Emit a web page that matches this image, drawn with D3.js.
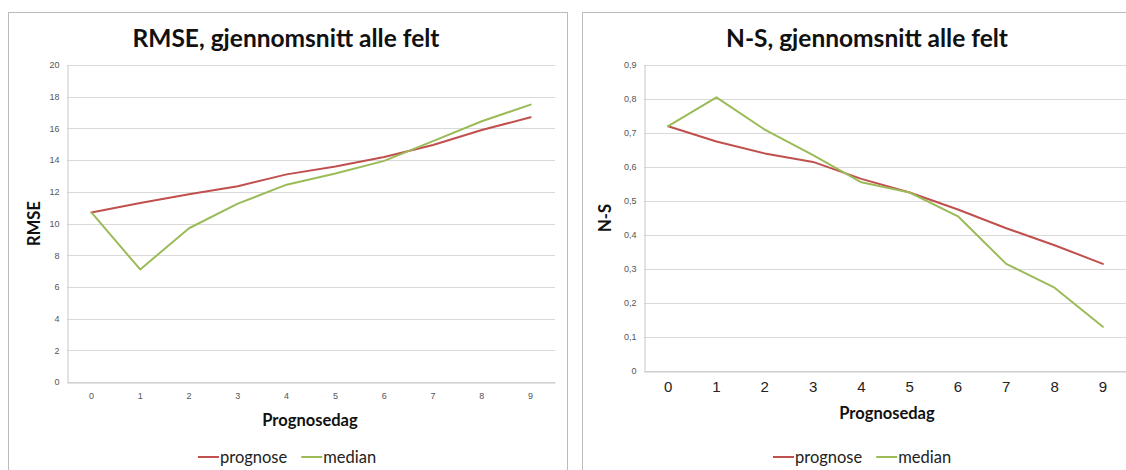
<!DOCTYPE html>
<html>
<head>
<meta charset="utf-8">
<script src="https://cdn.jsdelivr.net/npm/d3@7"></script>
<style>
  html, body { margin: 0; padding: 0; background: #ffffff; }
  svg { display: block; font-family: Lato, "Open Sans", sans-serif; }
</style>
</head>
<body>
<svg id="chart" width="1126" height="470"></svg>
<script>
// Forecast day categories shared by both panels
const days = ["0", "1", "2", "3", "4", "5", "6", "7", "8", "9"];

// RMSE, average over all fields
const rmsePrognose = [10.7, 11.3, 11.85, 12.35, 13.1, 13.6, 14.2, 14.95, 15.9, 16.7];
const rmseMedian   = [10.7, 7.1, 9.7, 11.25, 12.45, 13.15, 13.95, 15.2, 16.45, 17.5];
const rmseTicks    = [0, 2, 4, 6, 8, 10, 12, 14, 16, 18, 20];

// Nash-Sutcliffe, average over all fields
const nsPrognose = [0.72, 0.675, 0.64, 0.615, 0.565, 0.525, 0.475, 0.42, 0.37, 0.315];
const nsMedian   = [0.72, 0.805, 0.71, 0.635, 0.555, 0.525, 0.455, 0.315, 0.245, 0.13];
const nsTicks    = [0, 0.1, 0.2, 0.3, 0.4, 0.5, 0.6, 0.7, 0.8, 0.9];

const seriesNames = ["prognose", "median"];
const colors = { prognose: "#c0504d", median: "#9bbb59" };

const svg = d3.select("#chart");
const commaFmt = v => (v === 0 ? "0" : String(v).replace(".", ","));

function panel(opt) {
  const g = svg.append("g");

  // frame
  g.append("rect")
    .attr("x", opt.frame[0] + 0.5).attr("y", opt.frame[1] + 0.5)
    .attr("width", opt.frame[2]).attr("height", opt.frame[3])
    .attr("fill", "#fff").attr("stroke", "#bcbcbc").attr("stroke-width", 1);

  const x = d3.scaleBand().domain(days).range([opt.left, opt.right]);
  const y = d3.scaleLinear().domain(opt.domain).range([opt.bottom, opt.top]);

  // horizontal gridlines
  g.append("g").selectAll("line").data(opt.ticks).join("line")
    .attr("x1", opt.left).attr("x2", opt.right)
    .attr("y1", d => Math.round(y(d)) + 0.5).attr("y2", d => Math.round(y(d)) + 0.5)
    .attr("stroke", "#d9d9d9").attr("stroke-width", 1);

  // y axis
  const yAxis = g.append("g")
    .attr("transform", `translate(${opt.left + 0.5},0)`)
    .call(d3.axisLeft(y).tickValues(opt.ticks).tickFormat(opt.fmt).tickSize(0).tickPadding(8));
  yAxis.select(".domain").attr("stroke", "#c8c8c8");
  yAxis.selectAll("text").attr("font-size", 9).attr("fill", "#555");

  // x axis
  const xAxis = g.append("g")
    .attr("transform", `translate(0,${Math.round(opt.bottom) + 0.5})`)
    .call(d3.axisBottom(x).tickSize(0).tickPadding(opt.xPad));
  xAxis.select(".domain").attr("stroke", "#c8c8c8");
  xAxis.selectAll("text").attr("font-size", opt.xFont).attr("fill", opt.xColor);

  // series lines
  const line = d3.line()
    .x((d, i) => x(days[i]) + x.bandwidth() / 2)
    .y(d => y(d));
  [["prognose", opt.prognose], ["median", opt.median]].forEach(([name, vals]) => {
    g.append("path").datum(vals)
      .attr("d", line)
      .attr("fill", "none")
      .attr("stroke", colors[name])
      .attr("stroke-width", 2)
      .attr("stroke-linejoin", "round")
      .attr("stroke-linecap", "round");
  });

  // title
  g.append("text")
    .attr("x", opt.titleX).attr("y", 47)
    .attr("text-anchor", "middle")
    .attr("font-size", 24.5).attr("font-weight", 700).attr("fill", "#111")
    .text(opt.title);

  // axis titles
  g.append("text")
    .attr("x", opt.xTitleX).attr("y", opt.xTitleY)
    .attr("text-anchor", "middle")
    .attr("font-size", 16.5).attr("font-weight", 700).attr("fill", "#111")
    .text("Prognosedag");

  g.append("text")
    .attr("transform", `translate(${opt.yTitleX},${(opt.top + opt.bottom) / 2}) rotate(-90)`)
    .attr("text-anchor", "middle")
    .attr("font-size", 16.5).attr("font-weight", 700).attr("fill", "#111")
    .text(opt.yTitle);

  // legend
  const lg = g.append("g").attr("transform", `translate(${opt.legendX},457)`);
  let off = 0;
  seriesNames.forEach(name => {
    lg.append("line")
      .attr("x1", off).attr("x2", off + 21).attr("y1", 0).attr("y2", 0)
      .attr("stroke", colors[name]).attr("stroke-width", 2);
    const t = lg.append("text")
      .attr("x", off + 22).attr("y", 5.5)
      .attr("font-size", 16.5).attr("fill", "#222")
      .text(name);
    off += 22 + t.node().getComputedTextLength() + 14;
  });
}

panel({
  frame: [8, 12, 559, 470],
  left: 67, right: 555, top: 65, bottom: 382,
  domain: [0, 20], ticks: rmseTicks, fmt: commaFmt,
  prognose: rmsePrognose, median: rmseMedian,
  xFont: 9, xPad: 10, xColor: "#555",
  title: "RMSE, gjennomsnitt alle felt", titleX: 286,
  xTitleX: 310, xTitleY: 426, yTitle: "RMSE", yTitleX: 40,
  legendX: 198
});

panel({
  frame: [582, 12, 600, 470],
  left: 644, right: 1127, top: 65, bottom: 371,
  domain: [0, 0.9], ticks: nsTicks, fmt: commaFmt,
  prognose: nsPrognose, median: nsMedian,
  xFont: 15, xPad: 10, xColor: "#222",
  title: "N-S, gjennomsnitt alle felt", titleX: 867,
  xTitleX: 887, xTitleY: 419, yTitle: "N-S", yTitleX: 611,
  legendX: 773
});
</script>
</body>
</html>
